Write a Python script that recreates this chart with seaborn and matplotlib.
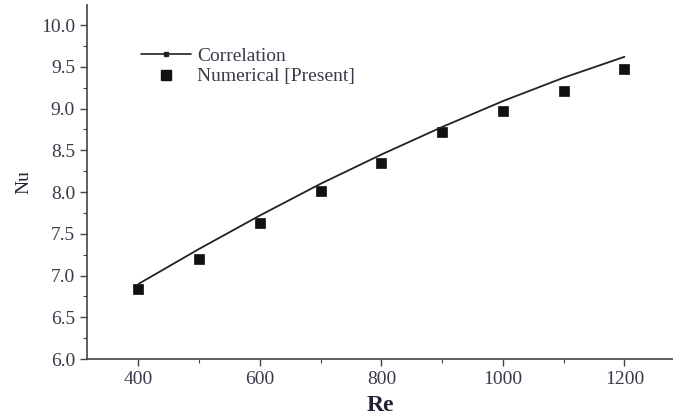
import matplotlib
matplotlib.use("Agg")
import matplotlib.pyplot as plt
import seaborn as sns
import pandas as pd
from matplotlib.lines import Line2D
from matplotlib.ticker import MultipleLocator

sns.set_theme(style="ticks")
plt.rcParams['font.family'] = ['Liberation Serif', 'DejaVu Serif']

re_corr = [400, 500, 600, 700, 800, 900, 1000, 1100, 1200]
nu_corr = [6.90, 7.32, 7.72, 8.10, 8.45, 8.78, 9.09, 9.37, 9.62]
re_num = [400, 500, 600, 700, 800, 900, 1000, 1100, 1200]
nu_num = [6.84, 7.20, 7.63, 8.01, 8.35, 8.72, 8.97, 9.21, 9.47]

df_corr = pd.DataFrame({"Re": re_corr, "Nu": nu_corr})
df_num = pd.DataFrame({"Re": re_num, "Nu": nu_num})

fig = plt.figure(figsize=(6.73, 4.2), dpi=100)
ax = fig.add_axes([0.129, 0.145, 0.871, 0.843])

sns.lineplot(data=df_corr, x="Re", y="Nu", ax=ax, color="#222222", linewidth=1.3)
sns.scatterplot(data=df_num, x="Re", y="Nu", ax=ax, marker="s", s=45, color="#111111",
                edgecolor="#111111", linewidth=0.5)

ax.set_xlim(315, 1280)
ax.set_ylim(6.0, 10.24)
ax.xaxis.set_major_locator(MultipleLocator(200))
ax.xaxis.set_minor_locator(MultipleLocator(100))
ax.yaxis.set_minor_locator(MultipleLocator(0.25))
yt = [6.0, 6.5, 7.0, 7.5, 8.0, 8.5, 9.0, 9.5, 10.0]
ax.set_yticks(yt)
ax.set_yticklabels([f"{v:.1f}" for v in yt])

for s in ["top", "right"]:
    ax.spines[s].set_visible(False)
for s in ["left", "bottom"]:
    ax.spines[s].set_color("#444444")
    ax.spines[s].set_linewidth(1.2)

ax.tick_params(axis="both", which="major", direction="out", length=5, width=1.0,
               color="#444444", labelsize=14, labelcolor="#3a3a4a")
ax.tick_params(axis="both", which="minor", direction="out", length=3, width=0.8, color="#444444")

ax.set_xlabel("Re", fontsize=17, fontweight="bold", color="#222233", labelpad=5)
ax.set_ylabel("Nu", fontsize=14, color="#222233", labelpad=6)

handles = [
    Line2D([0], [0], color="#222222", lw=1.2, marker="s", markersize=2.5),
    Line2D([0], [0], color="#111111", lw=0, marker="s", markersize=7),
]
leg = ax.legend(handles, ["Correlation", "Numerical [Present]"], loc="upper left",
                bbox_to_anchor=(0.062, 0.93), frameon=False, fontsize=14,
                handlelength=2.6, handletextpad=0.3, labelspacing=0.15)
for t in leg.get_texts():
    t.set_color("#3a3a4a")

fig.savefig("out.png", dpi=100)
